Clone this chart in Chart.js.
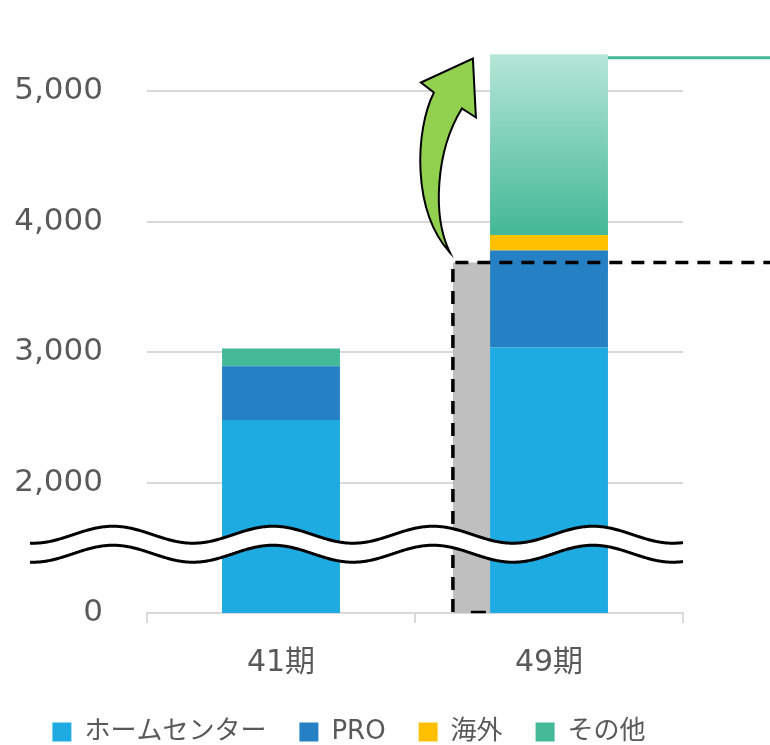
<!DOCTYPE html>
<html><head><meta charset="utf-8">
<script src="https://cdn.jsdelivr.net/npm/chart.js@4/dist/chart.umd.min.js"></script>
<style>html,body{margin:0;padding:0;background:#fff;overflow:hidden}#wrap{width:770px;height:745px}</style>
</head><body><div id="wrap"><canvas id="c" width="770" height="745"></canvas></div>
<script>
// ---- data ----
const categories = ['41期', '49期'];
const homeCenter = [2480, 3035];
const pro = [411, 744];
const overseas = [0, 118];
const others = [136, 1387];
const prevTotal = [null, 3687];          // grey comparison bar beside 49期
const yTickValues = [1000, 2000, 3000, 4000, 5000];
const yTickLabels = ['0', '2,000', '3,000', '4,000', '5,000'];
const breakValue = 1600;                 // where the axis break is drawn
const seriesNames = ['ホームセンター', 'PRO', '海外', 'その他'];

const C_HC = '#1DABE2', C_PRO = '#2581C4', C_OV = '#FFC000', C_OT = '#44BA98';
const TXT = '#595959', GRID = '#D9D9D9';

function othersColor(ctx) {
  if (ctx.dataIndex !== 1) return C_OT;
  const chart = ctx.chart, y = chart.scales && chart.scales.y;
  if (!y || !chart.chartArea) return C_OT;
  const i = 1;
  const total = homeCenter[i] + pro[i] + overseas[i] + others[i];
  const top = y.getPixelForValue(total), bot = y.getPixelForValue(total - others[i]);
  const g = chart.ctx.createLinearGradient(0, top, 0, bot);
  g.addColorStop(0, '#B6E6D8');
  g.addColorStop(1, '#43B896');
  return g;
}

const deco = {
  id: 'deco',
  afterDatasetsDraw(chart) {
    const ctx = chart.ctx, y = chart.scales.y, area = chart.chartArea;
    const meta0 = chart.getDatasetMeta(0);
    const el = meta0.data[1];
    const barLeft = el.x - el.width / 2, barRight = el.x + el.width / 2;
    const grayW = el.width * 0.315;
    const grayLeft = barLeft - grayW;
    const grayTop = y.getPixelForValue(prevTotal[1]);
    ctx.save();
    // grey bar
    ctx.fillStyle = '#BFBFBF';
    ctx.fillRect(grayLeft, grayTop, grayW, area.bottom - grayTop);
    // dashed box
    ctx.strokeStyle = '#000'; ctx.lineWidth = 3.5; ctx.setLineDash([13, 9]);
    ctx.beginPath();
    ctx.moveTo(grayLeft, area.bottom - 1);
    ctx.lineTo(grayLeft, grayTop);
    ctx.lineTo(chart.width + 5, grayTop);
    ctx.stroke();
    ctx.setLineDash([15, 10]); ctx.lineWidth = 2.5;
    ctx.beginPath();
    ctx.moveTo(grayLeft + 18, area.bottom - 1);
    ctx.lineTo(barLeft - 3, area.bottom - 1);
    ctx.stroke();
    ctx.setLineDash([]);

    // green line at top of 49期
    const total49 = homeCenter[1] + pro[1] + overseas[1] + others[1];
    const topY = y.getPixelForValue(total49);
    ctx.strokeStyle = '#44B997'; ctx.lineWidth = 3;
    ctx.beginPath(); ctx.moveTo(barRight, topY + 3.5); ctx.lineTo(chart.width, topY + 3.5); ctx.stroke();

    // curved arrow (relative to grey bar corner)
    const ax = grayLeft, ay = grayTop;
    const P = (dx, dy) => [ax + dx, ay + dy];
    const tail = P(-3, -10), innerN = P(9, -154), rBarb = P(23, -145), tip = P(20, -204),
          lBarb = P(-32, -180), outerN = P(-19, -170);
    ctx.beginPath();
    ctx.moveTo(...tail);
    ctx.bezierCurveTo(...P(-21, -47), ...P(-17, -112), ...innerN);
    ctx.lineTo(...rBarb);
    ctx.lineTo(...tip);
    ctx.lineTo(...lBarb);
    ctx.lineTo(...outerN);
    ctx.bezierCurveTo(...P(-38, -132), ...P(-41, -52), ...tail);
    ctx.closePath();
    ctx.fillStyle = '#92D050'; ctx.fill();
    ctx.strokeStyle = '#000'; ctx.lineWidth = 2; ctx.lineJoin = 'miter'; ctx.stroke();

    // axis break (wavy)
    const yc = y.getPixelForValue(breakValue);
    const gap = 19, amp = 8.5, period = 160, phase = 33;
    const x0 = 30, x1 = area.right;
    const wave = (x, base) => base + amp * Math.cos(2 * Math.PI * (x - phase) / period);
    ctx.beginPath();
    for (let x = x0; x <= x1; x++) { const yy = wave(x, yc); x === x0 ? ctx.moveTo(x, yy) : ctx.lineTo(x, yy); }
    for (let x = x1; x >= x0; x--) ctx.lineTo(x, wave(x, yc + gap));
    ctx.closePath(); ctx.fillStyle = '#fff'; ctx.fill();
    ctx.strokeStyle = '#000'; ctx.lineWidth = 3;
    [yc, yc + gap].forEach(b => {
      ctx.beginPath();
      for (let x = x0; x <= x1; x++) { const yy = wave(x, b); x === x0 ? ctx.moveTo(x, yy) : ctx.lineTo(x, yy); }
      ctx.stroke();
    });
    ctx.restore();
  }
};

new Chart(document.getElementById('c'), {
  type: 'bar',
  data: {
    labels: categories,
    datasets: [
      { label: seriesNames[0], data: homeCenter, backgroundColor: C_HC },
      { label: seriesNames[1], data: pro, backgroundColor: C_PRO },
      { label: seriesNames[2], data: overseas, backgroundColor: C_OV },
      { label: seriesNames[3], data: others, backgroundColor: othersColor }
    ]
  },
  options: {
    responsive: false,
    animation: false,
    datasets: { bar: { categoryPercentage: 1, barPercentage: 0.44, borderWidth: 0 } },
    layout: { padding: { top: 39, right: 87, left: 15, bottom: -10 } },
    plugins: {
      tooltip: { enabled: false },
      legend: {
        position: 'bottom',
        labels: {
          font: { family: "'DejaVu Sans', 'Noto Sans CJK JP'", size: 26 },
          color: TXT, boxWidth: 19, boxHeight: 19, padding: 33
        }
      }
    },
    scales: {
      x: {
        stacked: true,
        afterFit: (s) => { s.height = 73; },
        grid: { display: true, drawOnChartArea: false, drawTicks: true, tickLength: 10, color: GRID, lineWidth: 2, offset: true },
        border: { display: true, color: GRID, width: 2 },
        ticks: { font: { family: "'DejaVu Sans', 'Noto Sans CJK JP'", size: 30 }, color: TXT, padding: 22 }
      },
      y: {
        stacked: true,
        min: 1000, max: 5400,
        afterBuildTicks: (s) => { s.ticks = yTickValues.map(v => ({ value: v })); },
        afterFit: (s) => { s.width = 132; s.paddingTop = 0; s.paddingBottom = 0; },
        grid: { color: GRID, lineWidth: 2, drawTicks: false },
        border: { display: false },
        ticks: {
          font: { family: "'DejaVu Sans'", size: 31 }, color: TXT, padding: 44,
          callback: (v) => { const i = yTickValues.indexOf(v); return i >= 0 ? yTickLabels[i] : ''; }
        }
      }
    }
  },
  plugins: [deco]
});
</script>
</body></html>
